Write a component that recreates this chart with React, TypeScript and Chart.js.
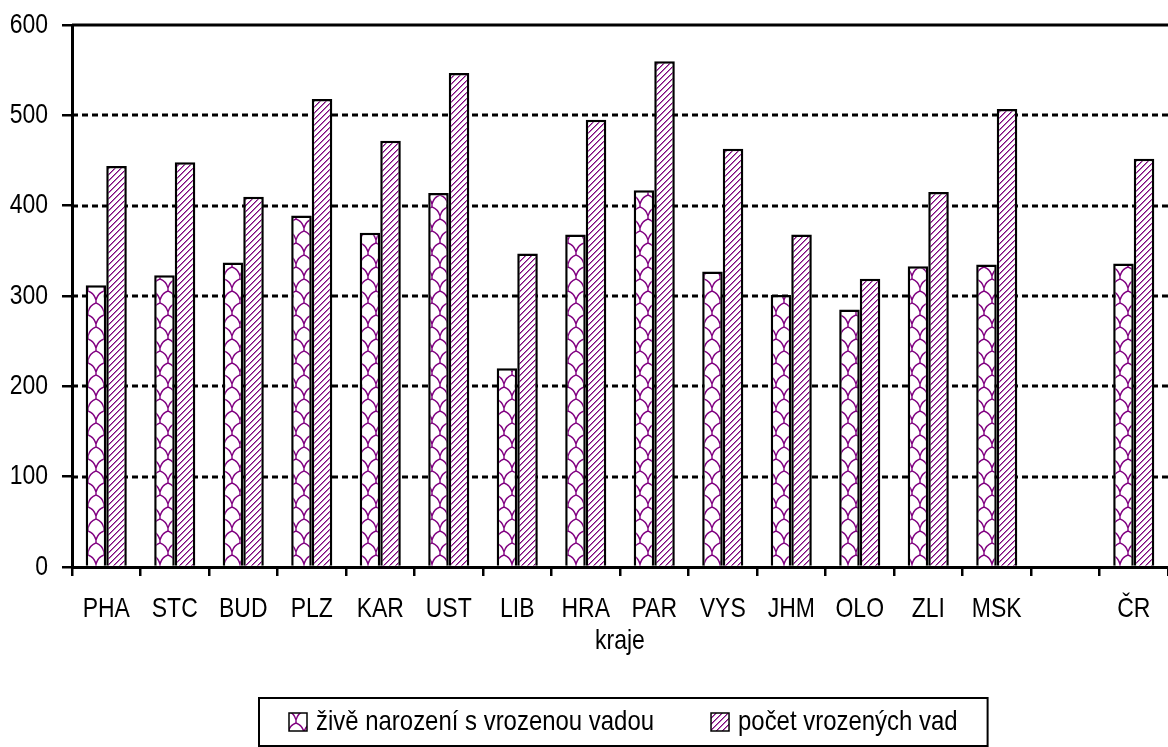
import React, { useEffect, useRef } from 'react';
import { Chart, registerables } from 'chart.js';

Chart.register(...registerables);

const categories = ['PHA', 'STC', 'BUD', 'PLZ', 'KAR', 'UST', 'LIB', 'HRA', 'PAR', 'VYS', 'JHM', 'OLO', 'ZLI', 'MSK', '', 'ČR'];
const liveBornWithDefect = [312, 323, 337, 389, 370, 414, 220, 368, 417, 327, 301, 285, 333, 335, null, 336];
const defectCount = [444, 448, 410, 518, 472, 547, 347, 495, 560, 463, 368, 319, 415, 507, null, 452];
const yTicks = [0, 100, 200, 300, 400, 500, 600];
const seriesNames = ['živě narození s vrozenou vadou', 'počet vrozených vad'];
const axisTitle = 'kraje';

const PURPLE = '#800080';
const FONT_FAMILY = "'Liberation Sans', Arial, sans-serif";
const FONT_SIZE = 28;
const NARROW = 0.82;

function drawNarrow(
  c: CanvasRenderingContext2D,
  text: string,
  x: number,
  y: number,
  align: CanvasTextAlign,
  squeeze: number = NARROW,
) {
  c.save();
  c.font = `${FONT_SIZE}px ${FONT_FAMILY}`;
  c.fillStyle = '#000';
  c.textBaseline = 'middle';
  c.textAlign = align;
  c.translate(x, y);
  c.scale(squeeze, 1);
  c.fillText(text, 0, 0);
  c.restore();
}

function narrowWidth(c: CanvasRenderingContext2D, text: string, squeeze: number) {
  c.save();
  c.font = `${FONT_SIZE}px ${FONT_FAMILY}`;
  const w = c.measureText(text).width * squeeze;
  c.restore();
  return w;
}

function makeStripePattern(ctx: CanvasRenderingContext2D): CanvasPattern {
  const p = 6;
  const c = document.createElement('canvas');
  c.width = p;
  c.height = p;
  const g = c.getContext('2d')!;
  g.fillStyle = '#ffffff';
  g.fillRect(0, 0, p, p);
  for (let x = 0; x < p; x++) {
    for (let y = 0; y < p; y++) {
      const d = (x + y) % p;
      if (d === 0) {
        g.fillStyle = PURPLE;
        g.fillRect(x, y, 1, 1);
      } else if (d === 1) {
        g.fillStyle = '#b070b0';
        g.fillRect(x, y, 1, 1);
      }
    }
  }
  return ctx.createPattern(c, 'repeat')!;
}

function makeScalePattern(ctx: CanvasRenderingContext2D): CanvasPattern {
  const w = 16;
  const h = 24;
  const c = document.createElement('canvas');
  c.width = w;
  c.height = h;
  const g = c.getContext('2d')!;
  g.fillStyle = '#ffffff';
  g.fillRect(0, 0, w, h);
  g.strokeStyle = PURPLE;
  g.lineWidth = 1.4;
  g.beginPath();
  g.moveTo(8, 0);
  g.lineTo(8, 3);
  g.moveTo(8, 3);
  g.quadraticCurveTo(2, 5, 0, 12);
  g.moveTo(8, 3);
  g.quadraticCurveTo(14, 5, 16, 12);
  g.moveTo(0, 12);
  g.lineTo(0, 15);
  g.moveTo(16, 12);
  g.lineTo(16, 15);
  g.moveTo(0, 15);
  g.quadraticCurveTo(6, 17, 8, 24);
  g.moveTo(16, 15);
  g.quadraticCurveTo(10, 17, 8, 24);
  g.stroke();
  return ctx.createPattern(c, 'repeat')!;
}

export default function App() {
  const canvasRef = useRef<HTMLCanvasElement | null>(null);

  useEffect(() => {
    document.body.style.margin = '0';
    const canvas = canvasRef.current!;
    const ctx = canvas.getContext('2d')!;
    const scalePat = makeScalePattern(ctx);
    const stripePat = makeStripePattern(ctx);

    const gridPlugin = {
      id: 'dashGrid',
      beforeDatasetsDraw(chart: any) {
        const { ctx: c, chartArea, scales } = chart;
        const y = scales.y;
        c.save();
        c.strokeStyle = '#000';
        c.lineWidth = 3;
        yTicks.forEach((v) => {
          if (v === 0) return;
          const py = Math.round(y.getPixelForValue(v));
          c.setLineDash(v === 600 ? [] : [6, 4]);
          c.beginPath();
          c.moveTo(chartArea.left, py);
          c.lineTo(chartArea.right, py);
          c.stroke();
        });
        c.restore();
      },
    };

    const textPlugin = {
      id: 'narrowText',
      afterDraw(chart: any) {
        const c: CanvasRenderingContext2D = chart.ctx;
        const { x, y } = chart.scales;
        yTicks.forEach((v) => {
          drawNarrow(c, String(v), 48, y.getPixelForValue(v), 'right');
        });
        categories.forEach((lab, i) => {
          if (!lab) return;
          drawNarrow(c, lab, x.getPixelForValue(i), 609, 'center');
        });
        drawNarrow(c, axisTitle, (chart.chartArea.left + chart.chartArea.right) / 2, 641, 'center');

        // legend
        const squeeze = 0.855;
        const boxLeft = 259;
        const pad = 30;
        const sw = 18;
        const gap = 9;
        const itemSpacing = 57;
        let cx = boxLeft + pad;
        const items = [
          { pat: scalePat, text: seriesNames[0] },
          { pat: stripePat, text: seriesNames[1] },
        ];
        items.forEach((it, i) => {
          c.save();
          c.fillStyle = it.pat;
          c.fillRect(cx, 713, sw, sw);
          c.lineWidth = 1.5;
          c.strokeStyle = '#000';
          c.strokeRect(cx, 713, sw, sw);
          c.restore();
          drawNarrow(c, it.text, cx + sw + gap, 722, 'left', squeeze);
          cx += sw + gap + narrowWidth(c, it.text, squeeze);
          if (i < items.length - 1) cx += itemSpacing;
        });
        c.save();
        c.strokeStyle = '#000';
        c.lineWidth = 2;
        c.strokeRect(boxLeft, 698, cx + pad - boxLeft, 48);
        c.restore();
      },
    };

    const chart = new Chart(canvas, {
      type: 'bar',
      data: {
        labels: categories,
        datasets: [
          {
            label: seriesNames[0],
            data: liveBornWithDefect,
            backgroundColor: scalePat,
            borderColor: '#000',
            borderWidth: 2.5,
            categoryPercentage: 0.6,
            barPercentage: 1,
          },
          {
            label: seriesNames[1],
            data: defectCount,
            backgroundColor: stripePat,
            borderColor: '#000',
            borderWidth: 2.5,
            categoryPercentage: 0.6,
            barPercentage: 1,
          },
        ],
      },
      options: {
        animation: false,
        responsive: false,
        devicePixelRatio: 1,
        layout: { padding: { top: 25, left: 0, right: 0, bottom: 80 } },
        plugins: {
          legend: { display: false },
          tooltip: { enabled: false },
        },
        scales: {
          x: {
            afterFit: (s: any) => {
              s.height = 100;
            },
            grid: {
              display: true,
              drawOnChartArea: false,
              drawTicks: true,
              tickLength: 9,
              color: '#000',
              lineWidth: 2.5,
              offset: true,
            },
            border: { display: true, color: '#000', width: 3 },
            ticks: { display: false, autoSkip: false, maxRotation: 0 },
          },
          y: {
            min: 0,
            max: 600,
            afterFit: (s: any) => {
              s.width = 72;
            },
            afterBuildTicks: (s: any) => {
              s.ticks = yTicks.map((v) => ({ value: v }));
            },
            grid: {
              display: true,
              drawOnChartArea: false,
              drawTicks: true,
              tickLength: 10,
              color: '#000',
              lineWidth: 2.5,
            },
            border: { display: true, color: '#000', width: 3 },
            ticks: { display: false },
          },
        },
      },
      plugins: [gridPlugin, textPlugin],
    });

    return () => {
      chart.destroy();
    };
  }, []);

  return (
    <div style={{ width: 1168, height: 747, background: '#fff' }}>
      <canvas ref={canvasRef} width={1168} height={747} style={{ display: 'block' }} />
    </div>
  );
}
